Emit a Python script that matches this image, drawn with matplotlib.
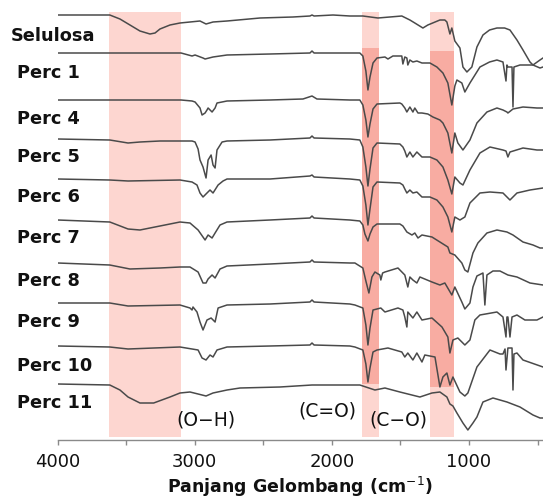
import numpy as np
import matplotlib
matplotlib.use("Agg")
from matplotlib import pyplot as plt

# FTIR spectra: (wavenumber cm-1, absorption depth in arbitrary units below baseline)
selulosa = [(4000, 0), (3620, 0), (3546, 4), (3473, 10), (3400, 16), (3327, 19), (3290, 18), (3254, 14),
            (3181, 10), (3108, 8), (3035, 7), (2962, 6), (2918, 9), (2867, 7), (2765, 6), (2524, 3),
            (2284, 2), (2160, 1), (2145, 0), (2130, 1), (1992, 0), (1869, 1), (1774, 1), (1664, 3),
            (1577, 2), (1490, 1), (1431, 5), (1395, 8), (1336, 13), (1300, 10), (1212, 5), (1176, 5),
            (1161, 7), (1139, 19), (1125, 13), (1103, 26), (1066, 33), (1044, 52), (1015, 57), (979, 52),
            (942, 32), (898, 20), (850, 15), (796, 13), (740, 13), (701, 15), (650, 25), (606, 35),
            (555, 47), (533, 50), (482, 45), (460, 43)]
perc1 = [(4000, 0), (3100, 0), (3020, 3), (2998, 2), (2940, 5), (2925, 6), (2867, 4), (2765, 2), (2451, 1),
         (2160, 0), (2145, -2), (2130, 0), (2000, 0), (1796, 0), (1774, 3), (1752, 18), (1737, 37),
         (1722, 24), (1700, 10), (1671, 5), (1613, 4), (1591, 6), (1555, 3), (1490, 3), (1482, 11),
         (1468, 4), (1453, 5), (1446, 12), (1431, 7), (1409, 9), (1380, 8), (1343, 10), (1285, 10),
         (1234, 14), (1190, 20), (1154, 30), (1125, 52), (1103, 33), (1088, 27), (1052, 30), (1030, 39),
         (993, 30), (920, 14), (850, 9), (796, 7), (752, 9), (730, 28), (723, 12), (716, 14), (686, 14),
         (679, 54), (672, 14), (628, 12), (533, 12), (482, 15), (460, 14)]
perc4 = [(4000, 0), (3100, 0), (3020, 1), (2998, 2), (2962, 8), (2947, 15), (2925, 13), (2911, 10),
         (2903, 8), (2874, 12), (2852, 8), (2838, 3), (2765, 1), (2451, 0), (2211, -1), (2145, -4),
         (2109, -1), (1869, 0), (1796, 0), (1774, 5), (1752, 20), (1737, 37), (1722, 24), (1700, 9),
         (1671, 4), (1504, 3), (1490, 4), (1468, 8), (1453, 12), (1431, 7), (1409, 12), (1395, 8),
         (1372, 13), (1343, 13), (1300, 14), (1263, 17), (1212, 20), (1190, 23), (1154, 33), (1125, 53),
         (1103, 33), (1081, 43), (1044, 50), (993, 40), (942, 23), (869, 12), (796, 8), (752, 10),
         (723, 12), (716, 13), (679, 9), (606, 7), (504, 8), (460, 8)]
perc5 = [(4000, 0), (3620, 1), (3487, 4), (3400, 3), (3254, 2), (3100, 2), (3020, 2), (2998, 3),
         (2976, 10), (2962, 21), (2940, 28), (2918, 39), (2903, 21), (2881, 16), (2867, 26), (2852, 29),
         (2838, 11), (2801, 3), (2765, 2), (2451, 1), (2160, -1), (2145, -3), (2130, -1), (1869, 0),
         (1796, 1), (1774, 8), (1752, 28), (1737, 47), (1722, 30), (1700, 9), (1671, 4), (1504, 5),
         (1482, 8), (1468, 12), (1453, 18), (1431, 13), (1409, 18), (1380, 13), (1343, 18), (1285, 18),
         (1234, 21), (1190, 28), (1154, 41), (1125, 55), (1103, 38), (1066, 44), (1044, 46), (993, 31),
         (920, 14), (847, 8), (752, 11), (730, 12), (716, 18), (701, 13), (606, 9), (504, 11), (460, 11)]
perc6 = [(4000, 0), (3620, 1), (3487, 2), (3108, 1), (3020, 3), (2984, 6), (2962, 14), (2940, 18),
         (2911, 14), (2889, 11), (2867, 14), (2830, 6), (2794, 2), (2765, 0), (2451, 0), (2160, -3),
         (2145, -4), (2130, -2), (1869, 0), (1796, 1), (1774, 7), (1752, 26), (1737, 46), (1722, 30),
         (1700, 8), (1671, 3), (1504, 4), (1482, 6), (1468, 10), (1453, 14), (1431, 11), (1409, 14),
         (1380, 13), (1343, 18), (1285, 18), (1234, 21), (1190, 28), (1154, 38), (1125, 53), (1103, 38),
         (1066, 41), (1030, 38), (993, 24), (920, 14), (847, 13), (752, 14), (701, 21), (650, 14),
         (555, 11), (460, 9)]
perc7 = [(4000, 0), (3620, 2), (3487, 9), (3400, 10), (3254, 6), (3108, 2), (3035, 3), (2976, 10),
         (2925, 20), (2903, 15), (2874, 18), (2852, 13), (2816, 5), (2765, 2), (2451, 0), (2160, -2),
         (2145, -4), (2130, -2), (1869, 0), (1796, 1), (1774, 5), (1759, 14), (1737, 21), (1722, 14),
         (1700, 7), (1671, 4), (1504, 4), (1482, 6), (1453, 12), (1416, 15), (1395, 13), (1372, 18),
         (1343, 15), (1270, 17), (1212, 22), (1154, 27), (1139, 33), (1103, 35), (1052, 43), (1030, 50),
         (1008, 52), (971, 33), (935, 23), (869, 13), (796, 10), (723, 12), (679, 15), (606, 22),
         (533, 25), (482, 28), (460, 28)]
perc8 = [(4000, 0), (3620, 2), (3473, 6), (3254, 5), (3108, 4), (3035, 4), (2976, 9), (2940, 20),
         (2918, 20), (2903, 16), (2874, 12), (2852, 15), (2816, 6), (2765, 3), (2451, 1), (2160, -1),
         (2145, -3), (2130, -1), (1869, 0), (1832, 0), (1774, 5), (1752, 18), (1730, 30), (1708, 14),
         (1686, 9), (1650, 12), (1643, 17), (1630, 10), (1613, 9), (1518, 5), (1468, 12), (1446, 24),
         (1431, 14), (1409, 17), (1380, 20), (1358, 14), (1270, 19), (1212, 22), (1176, 20), (1125, 32),
         (1103, 24), (1052, 39), (1030, 46), (993, 40), (971, 24), (942, 13), (898, 10), (884, 42),
         (869, 12), (825, 8), (774, 8), (716, 12), (650, 14), (555, 20), (460, 22)]
perc9 = [(4000, 0), (3620, 0), (3487, 3), (3108, 2), (3035, 5), (3020, 7), (3013, 4), (2984, 9),
         (2962, 19), (2940, 27), (2911, 17), (2881, 15), (2852, 19), (2830, 5), (2765, 2), (2451, 1),
         (2160, -1), (2145, -3), (2130, -1), (1869, 1), (1832, 2), (1774, 5), (1752, 22), (1737, 42),
         (1722, 25), (1700, 7), (1643, 5), (1613, 9), (1518, 5), (1482, 7), (1468, 14), (1453, 24),
         (1446, 9), (1409, 15), (1380, 9), (1343, 17), (1270, 15), (1197, 24), (1154, 34), (1139, 50),
         (1117, 37), (1081, 35), (1030, 42), (993, 37), (957, 17), (920, 12), (796, 9), (752, 14),
         (730, 34), (723, 14), (716, 14), (701, 34), (686, 14), (650, 12), (592, 17), (504, 17), (460, 14)]
perc10 = [(4000, 0), (3620, 1), (3487, 3), (3108, 1), (2976, 4), (2947, 12), (2918, 14), (2889, 9),
          (2867, 11), (2838, 4), (2765, 1), (2451, 0), (2160, -1), (2145, -3), (2130, -1), (1869, 0),
          (1832, 1), (1774, 4), (1752, 18), (1737, 36), (1722, 22), (1700, 6), (1671, 4), (1591, 2),
          (1490, 6), (1468, 11), (1446, 7), (1409, 14), (1380, 7), (1343, 16), (1322, 9), (1248, 11),
          (1212, 41), (1190, 31), (1161, 27), (1139, 39), (1117, 31), (1066, 46), (1030, 50), (1008, 47),
          (942, 21), (847, 4), (774, 8), (752, 8), (737, 3), (730, 24), (716, 2), (686, 2), (679, 44),
          (672, 8), (650, 7), (606, 14), (460, 21)]
perc11 = [(4000, 0), (3620, 1), (3546, 6), (3487, 13), (3400, 19), (3300, 19), (3181, 13), (3108, 9),
          (3035, 8), (2976, 10), (2918, 12), (2867, 9), (2765, 6), (2670, 4), (2379, 3), (2145, 1),
          (1869, 1), (1796, 1), (1686, 6), (1613, 4), (1504, 8), (1358, 13), (1270, 9), (1212, 8),
          (1161, 13), (1139, 20), (1117, 22), (1088, 29), (1044, 39), (1008, 46), (971, 39), (942, 33),
          (898, 18), (825, 14), (723, 18), (628, 23), (533, 31), (482, 34), (460, 34)]

names = ["Selulosa", "Perc 1", "Perc 4", "Perc 5", "Perc 6", "Perc 7", "Perc 8", "Perc 9", "Perc 10", "Perc 11"]
spectra = [selulosa, perc1, perc4, perc5, perc6, perc7, perc8, perc9, perc10, perc11]

# highlighted absorption bands (cm-1)
bands = [(3625, 3100), (1778, 1655), (1283, 1107)]
band_labels = ["(O\u2212H)", "(C=O)", "(C\u2212O)"]

# stacking layout (axis units run top -> bottom)
offsets = [15, 53, 100, 139, 179, 220, 263, 303, 346, 384]
label_y = [36, 73, 119, 157, 197, 238, 281, 322, 366, 403]

fig = plt.figure(figsize=(5.43, 4.98), dpi=100)
ax = fig.add_axes([57.7 / 543, 58 / 498, 1 - 57.7 / 543, 440 / 498])
ax.set_xlim(4000, 460)
ax.set_ylim(440, 0)

light = "#fdd6d0"
dark = "#f8aca2"
for lo, hi in bands:
    ax.fill_betweenx([12.5, 437], lo, hi, color=light, lw=0, zorder=0)
ax.fill_betweenx([48, 384], bands[1][0], bands[1][1], color=dark, lw=0, zorder=0)
ax.fill_betweenx([51, 387], bands[2][0], bands[2][1], color=dark, lw=0, zorder=0)

for pts, base in zip(spectra, offsets):
    wn, depth = zip(*pts)
    ax.plot(wn, base + np.array(depth), color="#4a4a4a", lw=1.1, zorder=2,
            solid_joinstyle="round")

for i, (name, y) in enumerate(zip(names, label_y)):
    x = 4345 if i == 0 else 4295
    ax.text(x, y, name, fontsize=12.8, fontweight="bold", ha="left", va="center",
            color="#111111", clip_on=False)

ax.text(2918, 420, band_labels[0], fontsize=13.5, ha="center", va="center", color="#111111")
ax.text(2036, 411, band_labels[1], fontsize=13.5, ha="center", va="center", color="#111111")
ax.text(1518, 420, band_labels[2], fontsize=13.5, ha="center", va="center", color="#111111")

for side in ["left", "right", "top"]:
    ax.spines[side].set_visible(False)
ax.spines["bottom"].set_color("#8a8a8a")
ax.spines["bottom"].set_linewidth(1.0)
ax.set_yticks([])
ax.set_xticks([4000, 3000, 2000, 1000])
ax.set_xticks([3500, 2500, 1500, 500], minor=True)
ax.tick_params(axis="x", which="both", direction="out", length=3.5, width=1.0,
               color="#8a8a8a", labelsize=13, pad=6, labelcolor="#111111")
ax.set_xlabel("Panjang Gelombang (cm$^{-1}$)", fontsize=12.5, fontweight="bold",
              labelpad=3, color="#111111")

fig.savefig("out.png", dpi=100)
